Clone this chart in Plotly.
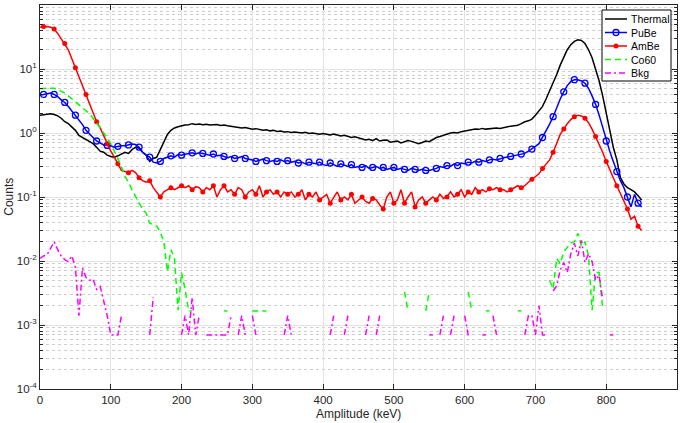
import plotly.graph_objects as go

# ---- data ----
amplitude_kev = list(range(0, 855, 5))

thermal = [
    1.9, 1.95, 2.0, 2.0, 1.95, 1.85, 1.7, 1.5, 1.4, 1.25,
    1.1, 0.92, 0.85, 0.78, 0.72, 0.68, 0.6, 0.52, 0.5, 0.45,
    0.43, 0.42, 0.44, 0.47, 0.5, 0.48, 0.55, 0.6, 0.58, 0.5,
    0.45, 0.36, 0.4, 0.42, 0.55, 0.72, 0.95, 1.1, 1.2, 1.25,
    1.3, 1.33, 1.35, 1.4, 1.36, 1.38, 1.35, 1.37, 1.33, 1.35,
    1.36, 1.31, 1.33, 1.3, 1.27, 1.25, 1.22, 1.2, 1.22, 1.18,
    1.15, 1.17, 1.13, 1.1, 1.12, 1.08, 1.1, 1.06, 1.07, 1.04,
    1.05, 1.02, 1.04, 1.01, 1.0, 1.03, 0.98, 1.0, 0.99, 0.96,
    0.98, 0.95, 0.93, 0.96, 0.92, 0.9, 0.92, 0.88, 0.85, 0.87,
    0.84, 0.82, 0.78, 0.8, 0.76, 0.82, 0.75, 0.77, 0.78, 0.72,
    0.73, 0.75, 0.7, 0.72, 0.76, 0.74, 0.7, 0.68, 0.71, 0.75,
    0.73, 0.8, 0.85, 0.88, 0.92, 0.95, 1.0, 1.02, 1.0, 1.05,
    1.08, 1.1, 1.12, 1.15, 1.14, 1.18, 1.15, 1.17, 1.16, 1.2,
    1.18, 1.22, 1.25, 1.28, 1.3, 1.32, 1.4, 1.5, 1.55, 1.65,
    1.9, 2.2, 2.6, 3.4, 4.5, 6.0, 8.2, 11.5, 15.5, 20.0,
    24.0, 27.0, 28.5, 28.0, 25.0, 20.0, 15.0, 10.0, 6.5, 3.8,
    2.0, 1.1, 0.6, 0.38, 0.2, 0.16, 0.14, 0.13, 0.12, 0.105,
    0.09,
]

pube = [
    3.9, 4.0, 4.2, 4.2, 4.0, 3.7, 3.3, 3.0, 2.6, 2.2,
    1.9, 1.6, 1.35, 1.1, 0.95, 0.85, 0.75, 0.7, 0.65, 0.64,
    0.63, 0.6, 0.62, 0.63, 0.63, 0.65, 0.67, 0.66, 0.6, 0.5,
    0.45, 0.42, 0.35, 0.34, 0.36, 0.4, 0.42, 0.44, 0.42, 0.46,
    0.45, 0.47, 0.48, 0.49, 0.47, 0.49, 0.48, 0.47, 0.45, 0.47,
    0.44, 0.45, 0.43, 0.41, 0.43, 0.4, 0.41, 0.43, 0.4, 0.39,
    0.38, 0.36, 0.38, 0.39, 0.37, 0.36, 0.37, 0.36, 0.38, 0.36,
    0.37, 0.35, 0.36, 0.34, 0.35, 0.33, 0.35, 0.34, 0.33, 0.35,
    0.32, 0.31, 0.34, 0.32, 0.3, 0.33, 0.31, 0.3, 0.32, 0.29,
    0.3, 0.29, 0.31, 0.28, 0.29, 0.3, 0.28, 0.29, 0.27, 0.28,
    0.29, 0.27, 0.28, 0.27, 0.26, 0.28, 0.27, 0.26, 0.27, 0.26,
    0.26, 0.27, 0.28, 0.3, 0.29, 0.31, 0.3, 0.33, 0.31, 0.34,
    0.33, 0.35, 0.34, 0.36, 0.35, 0.37, 0.36, 0.38, 0.39, 0.38,
    0.4, 0.41, 0.42, 0.43, 0.44, 0.45, 0.47, 0.48, 0.52, 0.56,
    0.62, 0.68, 0.85, 1.1, 1.38, 1.8, 2.5, 3.4, 4.4, 5.5,
    6.4, 6.8, 6.8, 6.5, 6.0, 5.0, 3.8, 2.8, 1.9, 1.2,
    0.75, 0.52, 0.36, 0.25, 0.18, 0.14, 0.1, 0.07, 0.11, 0.08,
    0.07,
]

ambe = [
    45, 46, 46, 45, 42, 36, 30, 25, 20, 14.5,
    10.5, 7.8, 5.6, 4.0, 2.8, 2.1, 1.5, 1.2, 0.9, 0.68,
    0.52, 0.42, 0.33, 0.26, 0.25, 0.24, 0.26, 0.24, 0.2, 0.18,
    0.17, 0.18, 0.14, 0.12, 0.1, 0.12, 0.13, 0.14, 0.13, 0.14,
    0.15, 0.14, 0.15, 0.13, 0.145, 0.14, 0.12, 0.14, 0.13, 0.15,
    0.1, 0.13, 0.15, 0.12, 0.13, 0.11, 0.14, 0.13, 0.1, 0.12,
    0.13, 0.11, 0.15, 0.1, 0.12, 0.13, 0.11, 0.12, 0.1, 0.12,
    0.11, 0.12, 0.1, 0.11, 0.13, 0.09, 0.11, 0.1, 0.12, 0.09,
    0.1, 0.11, 0.08, 0.1, 0.12, 0.09, 0.1, 0.09, 0.11, 0.08,
    0.09, 0.1, 0.085, 0.08, 0.095, 0.09, 0.075, 0.065, 0.1, 0.12,
    0.08, 0.09, 0.13, 0.08, 0.1, 0.12, 0.07, 0.09, 0.1, 0.08,
    0.09, 0.1, 0.09, 0.11, 0.095, 0.1, 0.12, 0.1, 0.11, 0.13,
    0.1, 0.12, 0.11, 0.14, 0.12, 0.13, 0.12, 0.135, 0.13, 0.14,
    0.13, 0.13, 0.12, 0.13, 0.14, 0.15, 0.14, 0.15, 0.17, 0.19,
    0.21, 0.23, 0.28, 0.33, 0.38, 0.5, 0.68, 0.95, 1.15, 1.4,
    1.62, 1.8, 1.9, 1.85, 1.7, 1.45, 1.15, 0.88, 0.68, 0.5,
    0.36, 0.26, 0.2, 0.15, 0.115, 0.09, 0.065, 0.045, 0.05, 0.035,
    0.03,
]

co60 = [
    4.9, 5.0, 5.0, 5.0, 5.0, 4.8, 4.5, 4.2, 3.8, 3.4,
    3.1, 2.8, 2.5, 2.2, 2.0, 1.7, 1.4, 1.2, 1.0, 0.82,
    0.68, 0.52, 0.4, 0.3, 0.21, 0.17, 0.13, 0.1, 0.08, 0.065,
    0.056, 0.039, 0.037, 0.035, 0.028, 0.02, 0.0068, 0.015, 0.011, 0.0017,
    0.0066, 0.0036, 0.00166, 0.00166, None, None, None, None, None, None,
    None, None, 0.00166, 0.00166, None, None, None, None, None, None,
    0.00166, 0.00166, 0.00166, 0.00166, 0.00166, None, None, None, None, None,
    None, None, None, None, None, None, None, None, None, None,
    None, None, None, None, None, None, None, None, None, None,
    None, None, None, None, None, None, None, None, None, None,
    None, None, None, 0.0033, 0.00166, None, None, None, None, 0.00166,
    0.0033, None, None, None, None, None, None, None, None, None,
    None, 0.0033, 0.00166, None, None, None, 0.00166, 0.00166, None, None,
    None, None, None, None, None, 0.00166, 0.00166, None, None, None,
    None, None, None, None, 0.005, 0.0037, 0.011, 0.009, 0.014, 0.016,
    0.019, 0.02, 0.027, 0.017, 0.02, 0.012, 0.0017, 0.0066, 0.0066, 0.0018,
    None, None, None, None, None, None, None, None, None, None,
    None,
]

bkg = [
    0.011, 0.012, 0.0125, 0.016, 0.02, 0.015, 0.012, 0.0105, 0.0098, 0.012,
    0.008, 0.0014, 0.0078, 0.0055, 0.005, 0.0052, 0.0036, 0.004, 0.0023, 0.0014,
    0.0007, 0.0007, 0.0007, 0.0014, None, None, None, None, None, None,
    None, 0.0007, 0.0027, None, None, None, None, None, None, None,
    0.0007, 0.0014, 0.0007, 0.0027, 0.0007, 0.0014, None, 0.0007, 0.0007, 0.0007,
    0.0007, 0.0007, 0.0007, 0.0007, 0.0014, None, 0.0007, 0.0014, 0.0007, None,
    0.0014, 0.0007, None, None, None, None, None, None, None, 0.0007,
    0.0014, 0.0007, None, None, None, None, None, None, None, None,
    None, None, 0.0007, 0.0014, None, None, 0.0007, 0.0014, None, None,
    None, None, 0.0007, 0.0014, None, 0.0007, 0.0014, None, None, None,
    None, None, None, None, None, None, None, None, None, None,
    0.0007, 0.0007, None, 0.0007, 0.0014, None, 0.0007, 0.0014, None, None,
    0.0014, 0.0007, 0.0007, None, None, 0.0007, 0.0007, None, 0.0014, 0.0007,
    None, None, None, None, None, None, None, 0.0007, 0.0014, 0.0014,
    0.0007, 0.002, 0.0007, 0.0007, None, 0.0034, 0.0041, 0.0072, 0.0095, 0.0066,
    0.013, 0.019, 0.012, 0.021, 0.0095, 0.013, 0.0098, 0.005, 0.006, 0.0025,
    None, 0.0007, 0.0007, None, None, None, None, None, None, None,
    None,
]

x_tick_vals = [0, 100, 200, 300, 400, 500, 600, 700, 800, 900]
y_tick_vals = [1e-4, 1e-3, 1e-2, 1e-1, 1e0, 1e1, 1e2]
y_tick_text = ["10<sup>-4</sup>", "10<sup>-3</sup>", "10<sup>-2</sup>", "10<sup>-1</sup>",
               "10<sup>0</sup>", "10<sup>1</sup>", "10<sup>2</sup>"]
x_title = "Amplitude (keV)"
y_title = "Counts"
series_names = ["Thermal", "PuBe", "AmBe", "Co60", "Bkg"]

MARK_EVERY = 3

BLACK, BLUE, RED, GREEN, MAGENTA = "black", "#0000ff", "#ff0000", "#00ff00", "#ff00ff"
DASH_CO60 = "6px,4px"
DASH_BKG = "6px,3px,2px,3px"
PUBE_MARKER = dict(symbol="circle-open", size=6, color=BLUE, line=dict(width=1.3, color=BLUE))
AMBE_MARKER = dict(symbol="circle", size=5, color=RED)

fig = go.Figure()

# Thermal
fig.add_trace(go.Scatter(x=amplitude_kev, y=thermal, mode="lines",
                         line=dict(color=BLACK, width=1.5)))
# PuBe
fig.add_trace(go.Scatter(x=amplitude_kev, y=pube, mode="lines",
                         line=dict(color=BLUE, width=1.5)))
fig.add_trace(go.Scatter(x=amplitude_kev[1::MARK_EVERY], y=pube[1::MARK_EVERY],
                         mode="markers", marker=PUBE_MARKER))
# AmBe
fig.add_trace(go.Scatter(x=amplitude_kev, y=ambe, mode="lines",
                         line=dict(color=RED, width=1.5)))
fig.add_trace(go.Scatter(x=amplitude_kev[1::MARK_EVERY], y=ambe[1::MARK_EVERY],
                         mode="markers", marker=AMBE_MARKER))
# Co60
fig.add_trace(go.Scatter(x=amplitude_kev, y=co60, mode="lines", connectgaps=False,
                         line=dict(color=GREEN, width=1.5, dash=DASH_CO60)))
# Bkg
fig.add_trace(go.Scatter(x=amplitude_kev, y=bkg, mode="lines", connectgaps=False,
                         line=dict(color=MAGENTA, width=1.5, dash=DASH_BKG)))

# ---- MATLAB-style legend box, drawn on an overlay axis measured in pixels ----
LEG_L, LEG_R, LEG_T, LEG_B = 602, 671, 10, 81
SAMPLE_L, SAMPLE_R, TEXT_X = 605, 627, 629
ROW_Y = [19, 32.5, 46, 59.5, 73]
fig.add_trace(go.Scatter(x=[LEG_L, LEG_R, LEG_R, LEG_L, LEG_L],
                         y=[LEG_T, LEG_T, LEG_B, LEG_B, LEG_T],
                         mode="lines", fill="toself", fillcolor="white",
                         line=dict(color=BLACK, width=1), xaxis="x2", yaxis="y2"))
sample_lines = [
    dict(color=BLACK, width=1.5),
    dict(color=BLUE, width=1.5),
    dict(color=RED, width=1.5),
    dict(color=GREEN, width=1.5, dash=DASH_CO60),
    dict(color=MAGENTA, width=1.5, dash=DASH_BKG),
]
sample_markers = [None, PUBE_MARKER, AMBE_MARKER, None, None]
annotations = []
for name, ry, ln, mk in zip(series_names, ROW_Y, sample_lines, sample_markers):
    fig.add_trace(go.Scatter(x=[SAMPLE_L, SAMPLE_R], y=[ry, ry], mode="lines", line=ln,
                             xaxis="x2", yaxis="y2"))
    if mk is not None:
        fig.add_trace(go.Scatter(x=[(SAMPLE_L + SAMPLE_R) / 2], y=[ry], mode="markers",
                                 marker=mk, xaxis="x2", yaxis="y2"))
    annotations.append(dict(text=name, xref="x2", yref="y2", x=TEXT_X, y=ry,
                            xanchor="left", yanchor="middle", showarrow=False,
                            font=dict(size=10.5, color="black")))

grid_major = "#e3e3e3"
grid_minor = "#cfcfcf"
axis_col = "#262626"

annotations += [
    dict(text=x_title, xref="paper", yref="paper", x=0.50, y=-0.066,
         xanchor="center", yanchor="middle", showarrow=False,
         font=dict(size=12, color=axis_col)),
    dict(text=y_title, xref="paper", yref="paper", x=-0.049, y=0.5,
         xanchor="center", yanchor="middle", showarrow=False, textangle=-90,
         font=dict(size=12, color=axis_col)),
]

fig.update_layout(
    width=685, height=423,
    margin=dict(l=40, r=8, t=5, b=34),
    paper_bgcolor="white", plot_bgcolor="white",
    font=dict(family="Liberation Sans, Arial, sans-serif", size=11, color=axis_col),
    showlegend=False,
    hovermode=False,
    xaxis=dict(range=[0, 900], tickvals=x_tick_vals, ticks="inside", ticklen=5,
               tickcolor=axis_col, showline=True, linecolor=axis_col, linewidth=1,
               mirror="allticks", showgrid=True, gridcolor=grid_major, gridwidth=1,
               zeroline=False, automargin=False, tickfont=dict(size=11.5)),
    yaxis=dict(type="log", range=[-4, 2], tickvals=y_tick_vals, ticktext=y_tick_text,
               ticks="inside", ticklen=5, tickcolor=axis_col,
               showline=True, linecolor=axis_col, linewidth=1, mirror="allticks",
               showgrid=True, gridcolor=grid_major, gridwidth=1, zeroline=False,
               automargin=False,
               minor=dict(dtick="D1", ticks="inside", ticklen=3, tickcolor=axis_col,
                          showgrid=True, gridcolor=grid_minor, griddash="dot", gridwidth=1),
               tickfont=dict(size=11.5)),
    xaxis2=dict(overlaying="x", range=[40, 677], visible=False, fixedrange=True),
    yaxis2=dict(overlaying="y", range=[389, 5], visible=False, fixedrange=True),
    annotations=annotations,
)

fig.write_html("out.html", config={"displayModeBar": False, "staticPlot": True},
               post_script="document.body.style.margin='0';")
